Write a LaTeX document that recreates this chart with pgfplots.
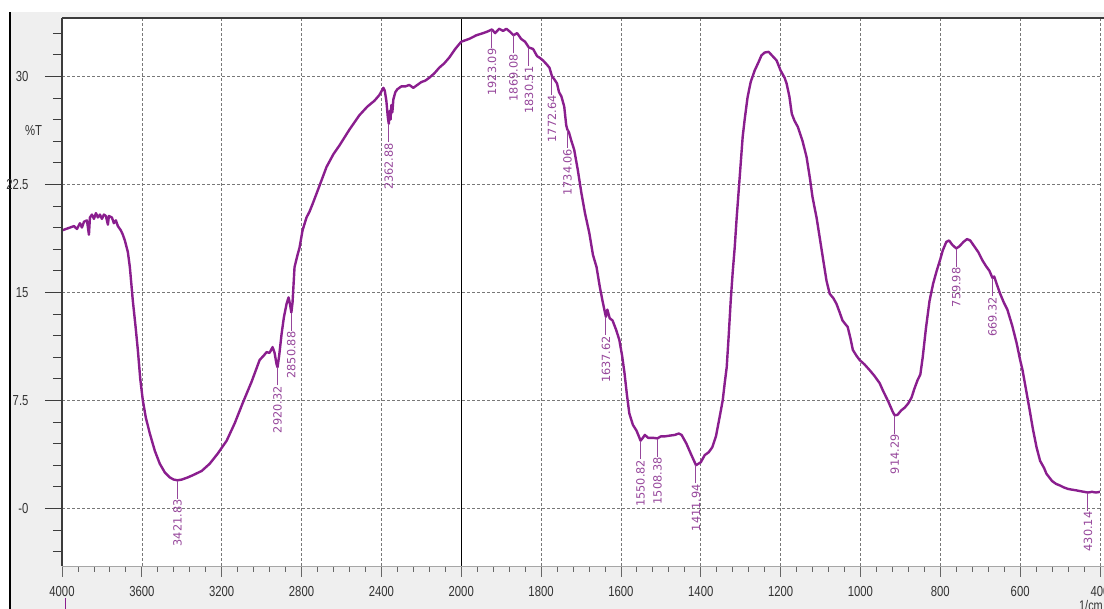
\documentclass[border=0pt]{standalone}
\usepackage{fontspec}
\usepackage{pgfplots}
\usepackage{pgfplotstable}
\pgfplotsset{compat=1.18}

\newfontfamily\ticksans[FakeStretch=0.78]{Liberation Sans}
\newfontfamily\peaksans{DejaVu Sans}

\definecolor{trace}{RGB}{138,30,142}
\definecolor{peaklab}{RGB}{150,70,155}
\definecolor{panel}{RGB}{239,239,239}
\definecolor{frame}{RGB}{60,60,60}
\definecolor{gridc}{RGB}{120,120,120}

% FTIR transmittance spectrum: wavenumber (1/cm), %T
\pgfplotstableread{
wn T
4000 19.3
3980 19.4
3960 19.5
3940 19.6
3925 19.4
3910 19.8
3900 19.5
3890 19.9
3875 20.0
3865 19.0
3860 20.2
3850 20.4
3840 20.1
3830 20.5
3820 20.2
3810 20.4
3800 20.1
3790 20.4
3780 20.3
3770 19.7
3765 20.3
3750 20.2
3740 19.8
3730 20.0
3720 19.6
3705 19.3
3695 19.0
3685 18.6
3670 17.8
3660 16.75
3645 14.4
3632 12.7
3620 11.0
3608 9.0
3595 7.5
3580 6.3
3560 5.2
3535 4.0
3510 3.1
3485 2.5
3460 2.15
3440 2.0
3421.83 1.95
3400 2.0
3370 2.15
3345 2.3
3300 2.6
3260 3.1
3220 3.8
3175 4.7
3135 5.9
3095 7.3
3050 8.8
3010 10.3
2990 10.6
2975 10.85
2960 10.8
2945 11.2
2935 10.8
2925 10.0
2920.32 9.8
2912 10.6
2900 12.1
2888 13.3
2875 14.2
2865 14.65
2858 14.2
2850.88 13.6
2845 14.3
2835 16.75
2820 17.6
2810 18.1
2795 19.3
2775 20.2
2760 20.6
2740 21.3
2710 22.4
2675 23.7
2640 24.6
2610 25.2
2560 26.3
2510 27.3
2470 27.9
2435 28.3
2410 28.7
2390 29.2
2383 29.0
2375 28.3
2368 27.2
2362.88 26.7
2358 27.6
2354 27.0
2350 28.0
2345 27.5
2340 28.4
2330 28.9
2320 29.1
2300 29.3
2280 29.3
2260 29.4
2240 29.2
2220 29.4
2200 29.6
2180 29.7
2160 29.9
2135 30.2
2110 30.6
2085 30.9
2060 31.3
2030 31.9
2000 32.4
1980 32.6
1962 32.85
1945 33.0
1935 33.1
1923.09 33.25
1915 33.0
1905 33.3
1895 33.15
1887 33.3
1878 33.1
1869.08 32.85
1860 33.0
1850 32.6
1840 32.4
1830.51 32.0
1820 31.9
1810 31.4
1804 31.3
1795 31.1
1785 30.8
1779 30.6
1772.64 30.0
1767 29.8
1760 29.5
1755 28.9
1749 28.6
1742 27.9
1737 26.6
1734.06 26.3
1730 26.1
1725 25.6
1717 24.9
1708 23.5
1699 21.9
1690 20.5
1679 19.1
1670 17.6
1661 16.75
1653 15.4
1646 14.4
1640 13.6
1637.62 13.3
1634 13.8
1628 13.2
1621 13.05
1612 12.4
1604 11.7
1597 10.6
1591 9.4
1585 7.9
1579 6.6
1570 5.8
1561 5.4
1555 5.0
1550.82 4.7
1545 4.9
1540 5.1
1532 4.9
1520 4.9
1508.38 4.86
1500 5.0
1490 5.0
1478 5.05
1465 5.1
1455 5.2
1448 5.1
1436 4.5
1425 3.8
1411.94 3.0
1400 3.2
1390 3.7
1380 3.9
1371 4.25
1362 5.0
1353 6.3
1345 7.5
1340 8.7
1335 9.8
1330 12.0
1325 14.4
1320 16.4
1315 18.1
1310 20.2
1303 22.8
1295 25.8
1290 27.0
1283 28.5
1275 29.6
1265 30.4
1255 31.0
1248 31.45
1240 31.65
1230 31.7
1220 31.4
1210 31.1
1200 30.4
1190 29.9
1185 29.5
1178 28.6
1172 27.4
1165 26.9
1157 26.5
1145 25.5
1135 24.4
1127 23.0
1120 21.6
1110 20.2
1102 18.8
1093 17.2
1085 15.8
1077 14.9
1068 14.6
1060 14.2
1052 13.6
1045 13.05
1038 12.8
1032 12.6
1025 11.8
1019 11.0
1010 10.6
1002 10.3
990 10.0
977 9.6
965 9.2
952 8.7
944 8.2
930 7.4
919 6.7
914.29 6.46
907 6.5
898 6.8
889 7.0
880 7.3
872 7.7
865 8.3
857 8.9
850 9.3
844 10.5
836 12.5
827 14.4
818 15.6
809 16.5
800 17.3
794 17.9
785 18.5
778 18.6
770 18.3
759.98 18.05
752 18.2
742 18.5
733 18.7
725 18.6
715 18.2
705 17.8
694 17.2
685 16.8
677 16.5
669.32 16.0
665 16.1
659 15.6
650 14.9
641 14.3
632 13.8
620 12.7
609 11.5
600 10.3
594 9.6
585 8.2
576 6.8
568 5.5
559 4.25
550 3.3
540 2.8
534 2.4
520 1.9
510 1.7
501 1.6
490 1.45
480 1.35
470 1.3
459 1.25
450 1.2
440 1.15
430.14 1.1
420 1.15
410 1.1
400 1.15
}\spectrum

% picked peaks: position, %T at the peak, printed label
\pgfplotstableread{
wn T lab
3421.83 1.95 3421.83
2920.32 9.8 2920.32
2850.88 13.6 2850.88
2362.88 26.7 2362.88
1923.09 33.25 1923.09
1869.08 32.85 1869.08
1830.51 32.0 1830.51
1772.64 30.0 1772.64
1734.06 26.3 1734.06
1637.62 13.3 1637.62
1550.82 4.7 1550.82
1508.38 4.86 1508.38
1411.94 3.0 1411.94
914.29 6.46 914.29
759.98 18.05 759.98
669.32 16.0 669.32
430.14 1.1 430.14
}\peaks

\pgfplotsset{
  panelgeom/.style={
    scale only axis, width=1038pt, height=548pt,
    at={(0,0)}, anchor=south west,
    ymin=-4, ymax=34.05,
    axis line style={draw=none},
    tick align=outside,
    ticklabel style={font=\ticksans\fontsize{14.5}{16}\selectfont, text=black!80},
  },
}

\begin{document}
\begin{tikzpicture}[x=1pt,y=1pt]
\useasboundingbox (-62,-43) rectangle (1042,566);
\fill[white] (-62,-43) rectangle (1042,566);
\fill[panel] (-52,-43) rectangle (1042,554);
\draw[black, line width=1.2pt] (-52,-43) -- (-52,554);
\fill[white] (0,0) rectangle (1042,548);

% %T scale with its longer ticks
\begingroup
\pgfplotsset{major tick length=17pt, minor tick length=9pt}
\begin{axis}[
  panelgeom,
  xmin=0, xmax=1, xtick=\empty,
  ytick={0,7.5,15,22.5,30},
  yticklabels={-0,7.5,15,22.5,30},
  minor ytick={-3,-1.5,1.5,3,4.5,6,9,10.5,12,13.5,16.5,18,19.5,21,24,25.5,27,28.5,31.5,33},
  ytick pos=left,
  major tick length=17pt, minor tick length=9pt,
  ytick style={draw=frame, line width=0.8pt},
  yticklabel style={anchor=east, xshift=-13pt},
]
\end{axis}
\endgroup

% spectrum, grid and wavenumber scale
\begin{axis}[
  panelgeom,
  x dir=reverse,
  % 4000-2000 is drawn at half the scale of 2000-400
  x coord trafo/.code={\pgfmathparse{#1-0.5*max(#1-2000,0)}},
  x coord inv trafo/.code={\pgfmathparse{#1+max(#1-2000,0)}},
  xmin=400, xmax=4000,
  xtick={4000,3600,3200,2800,2400,2000,1800,1600,1400,1200,1000,800,600,400},
  xticklabels={4000,3600,3200,2800,2400,2000,1800,1600,1400,1200,1000,800,600,400},
  minor xtick={2080,2160,...,3920,440,480,...,1960},
  ytick={0,7.5,15,22.5,30},
  yticklabel=\empty,
  xtick pos=left, ytick pos=left,
  major tick length=11pt, minor tick length=6pt,
  xtick style={draw=black!60, line width=0.8pt},
  ytick style={draw=none},
  grid=major,
  major grid style={gridc, line width=0.6pt, dash pattern=on 3pt off 2pt},
  xticklabel style={yshift=-6pt},
  clip=true,
]
\draw[black, line width=1.2pt] (axis cs:2000,-4) -- (axis cs:2000,34.05);
\addplot[trace, line width=2.4pt, line join=round] table[x=wn, y=T] {\spectrum};
\addplot[draw=none, mark=none,
  point meta=explicit symbolic,
  nodes near coords={\pgfplotspointmeta\hspace{1pt}\rule[0.36em]{18pt}{0.7pt}\hspace{2pt}},
  nodes near coords style={rotate=90, anchor=east, inner sep=0pt, text=peaklab,
    font=\peaksans\fontsize{11.3}{12}\selectfont},
] table[x=wn, y=T, meta=lab] {\peaks};
\end{axis}

\draw[frame, line width=2pt] (0,548) -- (1042,548);
\draw[frame, line width=1.5pt] (0,0) -- (0,548);
\draw[black!35, line width=0.8pt] (0,0) -- (1042,0);

\node[font=\ticksans\fontsize{14.5}{16}\selectfont, text=black!80] at (-28.5,435) {\%T};
\node[font=\ticksans\fontsize{14}{16}\selectfont, text=black!80, anchor=north east, inner sep=0pt] at (1041,-34.5) {1/cm};
\draw[trace, line width=1pt] (4,-32) -- (4,-43);
\end{tikzpicture}
\end{document}
